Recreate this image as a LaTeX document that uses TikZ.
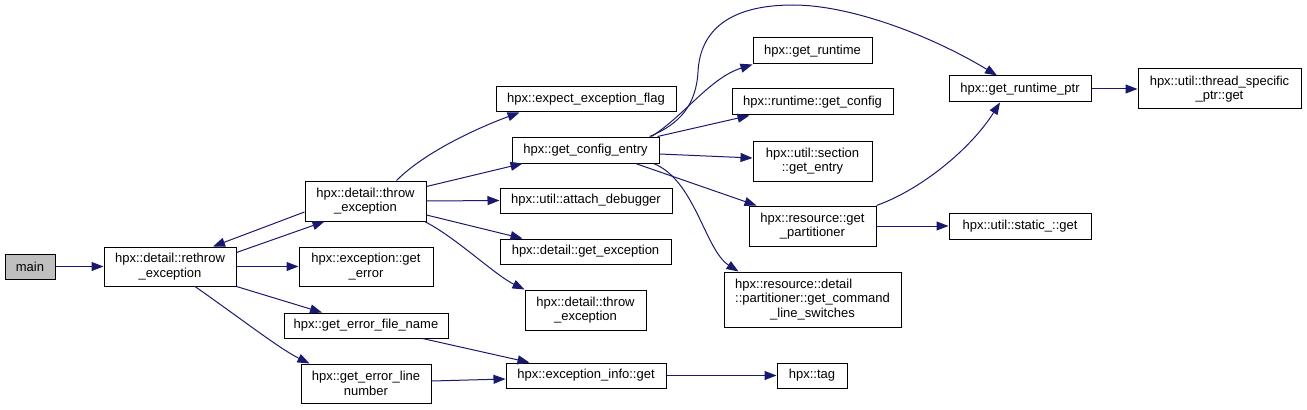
\documentclass[tikz,border=0pt]{standalone}
\usepackage{fontspec}
\setmainfont{Liberation Sans}
\usetikzlibrary{arrows.meta,calc}
\definecolor{edgeblue}{HTML}{191970}
\definecolor{maingray}{HTML}{BFBFBF}
\tikzset{
  bx/.style={draw=black, line width=0.75pt, inner sep=0pt, align=center,
    font=\fontsize{9.75pt}{10.75pt}\selectfont},
  sz/.style 2 args={minimum width=#1*0.75pt, minimum height=#2*0.75pt},
  conn/.style={draw=edgeblue, line width=0.75pt, -{Triangle[length=9pt,width=6.75pt]}},
}
\begin{document}
\begin{tikzpicture}[x=0.75pt,y=-0.75pt]
\useasboundingbox (0,0) rectangle (1307,410);
% nodes
\node[bx,sz={50}{25},fill=maingray] (main) at (30,266.5) {main};
\node[bx,sz={132}{39}] (rethrow) at (170,266.5) {hpx::detail::rethrow\\\_exception};
\node[bx,sz={121}{40}] (thr1) at (365.5,201) {hpx::detail::throw\\\_exception};
\node[bx,sz={134}{39}] (geterr) at (366,266.5) {hpx::exception::get\\\_error};
\node[bx,sz={164}{25}] (file) at (366,325.5) {hpx::get\_error\_file\_name};
\node[bx,sz={130}{39}] (line) at (366,383.5) {hpx::get\_error\_line\\number};
\node[bx,sz={180}{25}] (expect) at (586,99.5) {hpx::expect\_exception\_flag};
\node[bx,sz={147}{26}] (cfg) at (585.5,150) {hpx::get\_config\_entry};
\node[bx,sz={172}{25}] (attach) at (586,200.5) {hpx::util::attach\_debugger};
\node[bx,sz={171}{25}] (getexc) at (585.5,251.5) {hpx::detail::get\_exception};
\node[bx,sz={121}{40}] (thr2) at (585.5,310) {hpx::detail::throw\\\_exception};
\node[bx,sz={160}{25}] (einfo) at (586,375.5) {hpx::exception\_info::get};
\node[bx,sz={119}{26}] (getrt) at (812.5,51) {hpx::get\_runtime};
\node[bx,sz={161}{26}] (rtcfg) at (812.5,102) {hpx::runtime::get\_config};
\node[bx,sz={119}{40}] (section) at (812.5,161) {hpx::util::section\\::get\_entry};
\node[bx,sz={127}{40}] (part) at (812.5,226) {hpx::resource::get\\\_partitioner};
\node[bx,sz={177}{55}] (cmd) at (812.5,299.5) {\rlap{hpx::resource::detail}\phantom{::partitioner::get\_command}\\::partitioner::get\_command\\\_line\_switches};
\node[bx,sz={70}{25}] (tag) at (812,375.5) {hpx::tag};
\node[bx,sz={142}{26}] (rtptr) at (1020,89) {hpx::get\_runtime\_ptr};
\node[bx,sz={163}{40}] (tsp) at (1219.5,89) {hpx::util::thread\_specific\\\_ptr::get};
\node[bx,sz={142}{26}] (static) at (1020,226) {hpx::util::static\_::get};
% connectors
\draw[conn] (main.east) -- (rethrow.west);
\draw[conn] ($(rethrow.north east)+(0,6)$) -- ($(thr1.south west)+(20,0)$);
\draw[conn] ($(thr1.west)+(0,11)$) -- ($(rethrow.north)+(43,0)$);
\draw[conn] (rethrow.east) -- (geterr.west);
\draw[conn] (rethrow.south east) -- ($(file.north)+(-44,0)$);
\draw[conn] ($(rethrow.south)+(25,0)$) .. controls (240,318) and (280,349) .. ($(line.north west)+(9,0)$);
\draw[conn] ($(thr1.north)+(31,0)$) .. controls (426,151) and (480,127) .. ($(expect.south west)+(24,0)$);
\draw[conn] ($(thr1.north east)+(0,6)$) -- ($(cfg.south west)+(11,0)$);
\draw[conn] (thr1.east) -- (attach.west);
\draw[conn] ($(thr1.east)+(0,14)$) -- ($(getexc.north west)+(23,0)$);
\draw[conn] ($(thr1.south east)+(-2,0)$) .. controls (454,236) and (495,275) .. (thr2.north west);
\draw[conn] ($(cfg.north east)+(-10,0)$) .. controls (680,124) and (696,105) .. (698,72)
   .. controls (700,30) and (730,5) .. (793,5)
   .. controls (850,5) and (930,35) .. ($(rtptr.north)+(-23,0)$);
\draw[conn] ($(cfg.north east)+(-8,0)$) .. controls (685,115) and (710,78) .. (getrt.south west);
\draw[conn] ($(cfg.north east)+(-2,0)$) -- ($(rtcfg.south west)+(18,0)$);
\draw[conn] ($(cfg.east)+(0,4)$) -- ($(section.west)+(0,-3)$);
\draw[conn] ($(cfg.south east)+(-24,0)$) -- ($(part.north west)+(8,0)$);
\draw[conn] ($(cfg.south east)+(-6,0)$) .. controls (695,180) and (705,250) .. ($(cmd.north west)+(15,0)$);
\draw[conn] (part.north east) .. controls (920,190) and (970,150) .. ($(rtptr.south)+(-20,0)$);
\draw[conn] (part.east) -- (static.west);
\draw[conn] (rtptr.east) -- (tsp.west);
\draw[conn] ($(file.south east)+(-26,0)$) -- ($(einfo.north west)+(24,0)$);
\draw[conn] ($(line.east)+(0,-2.5)$) -- ($(einfo.west)+(0,3.5)$);
\draw[conn] (einfo.east) -- (tag.west);
\end{tikzpicture}
\end{document}
